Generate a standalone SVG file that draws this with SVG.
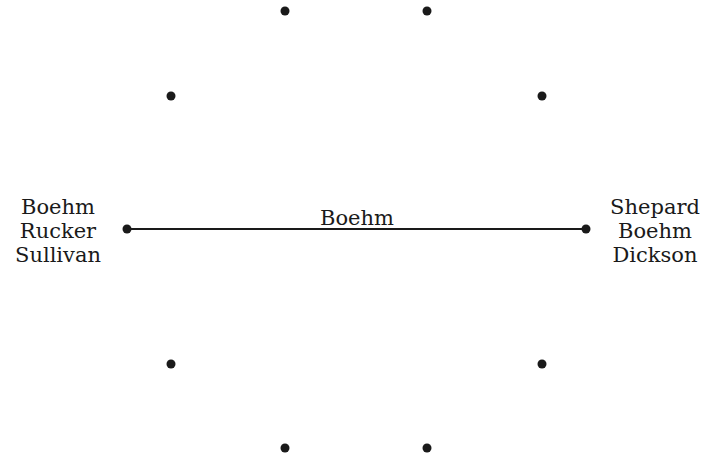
<svg xmlns="http://www.w3.org/2000/svg" width="710" height="458" viewBox="0 0 710 458">
<style>
.n{fill:#1a1a1a}
.t{font-family:"DejaVu Serif","Liberation Serif",serif;font-size:21px;fill:#1a1a1a;text-anchor:middle}
.e{stroke:#1a1a1a;stroke-width:2;fill:none}
</style>
<rect width="710" height="458" fill="#fff"/>
<g id="connectors">
<line class="e" x1="127" y1="229" x2="586" y2="229"/>
<text class="t" x="357" y="225">Boehm</text>
</g>
<g id="n1"><circle class="n" cx="285" cy="11" r="4.5"/></g>
<g id="n2"><circle class="n" cx="427" cy="11" r="4.5"/></g>
<g id="n3"><circle class="n" cx="171" cy="96" r="4.5"/></g>
<g id="n4"><circle class="n" cx="542" cy="96" r="4.5"/></g>
<g id="n5"><circle class="n" cx="127" cy="229" r="4.5"/>
<text class="t" x="58"><tspan x="58" y="214">Boehm</tspan><tspan x="58" y="238">Rucker</tspan><tspan x="58" y="262">Sullivan</tspan></text></g>
<g id="n6"><circle class="n" cx="586" cy="229" r="4.5"/>
<text class="t" x="655"><tspan x="655" y="214">Shepard</tspan><tspan x="655" y="238">Boehm</tspan><tspan x="655" y="262">Dickson</tspan></text></g>
<g id="n7"><circle class="n" cx="171" cy="364" r="4.5"/></g>
<g id="n8"><circle class="n" cx="542" cy="364" r="4.5"/></g>
<g id="n9"><circle class="n" cx="285" cy="448" r="4.5"/></g>
<g id="n10"><circle class="n" cx="427" cy="448" r="4.5"/></g>
</svg>
